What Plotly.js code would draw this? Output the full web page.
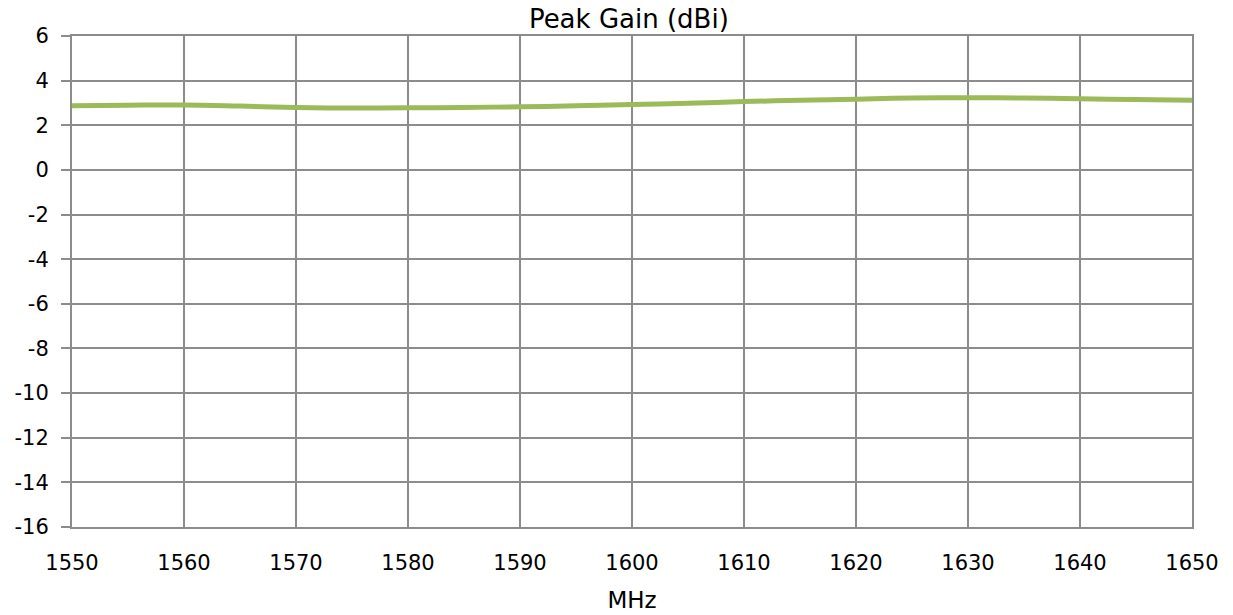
<!DOCTYPE html>
<html>
<head>
<meta charset="utf-8">
<script src="https://cdn.plot.ly/plotly-3.0.1.min.js"></script>
<style>html,body{margin:0;padding:0;background:#fff;}#chart{width:1233px;height:615px;}</style>
</head>
<body>
<div id="chart"></div>
<script>
const freqMHz = [1550,1555,1560,1565,1570,1575,1580,1585,1590,1595,1600,1605,1610,1615,1620,1625,1630,1635,1640,1645,1650];
const peakGain = [2.88,2.90,2.91,2.86,2.80,2.77,2.78,2.80,2.83,2.87,2.93,2.99,3.06,3.12,3.17,3.22,3.23,3.22,3.19,3.15,3.12];
const xTicks = [1550,1560,1570,1580,1590,1600,1610,1620,1630,1640,1650];
const yTicks = [6,4,2,0,-2,-4,-6,-8,-10,-12,-14,-16];

const font = "DejaVu Sans, Verdana, sans-serif";
const grid = "#8c8c8c";

Plotly.newPlot("chart", [{
  x: freqMHz, y: peakGain, type: "scatter", mode: "lines",
  line: {color: "#9bbb59", width: 5, shape: "spline"},
  hoverinfo: "skip"
}], {
  width: 1233, height: 615,
  margin: {l: 72, r: 41, t: 36, b: 88},
  paper_bgcolor: "#fff", plot_bgcolor: "#fff",
  showlegend: false,
  font: {family: font, color: "#000"},
  title: {text: "Peak Gain (dBi)", font: {family: font, size: 26, color: "#000"}, x: 0.51, xanchor: "center", y: 0.97, yanchor: "middle"},
  xaxis: {
    range: [1550, 1650], tickvals: xTicks, ticktext: xTicks.map(String),
    showgrid: true, gridcolor: grid, gridwidth: 2,
    showline: true, linecolor: grid, linewidth: 2, mirror: true,
    ticks: "", tickfont: {family: font, size: 21, color: "#000"},
    ticklabelstandoff: 16,
    zeroline: false,
    title: {text: "MHz", font: {family: font, size: 23, color: "#000"}, standoff: 18}
  },
  yaxis: {
    range: [-16, 6], tickvals: yTicks, ticktext: yTicks.map(String),
    showgrid: true, gridcolor: grid, gridwidth: 2,
    showline: true, linecolor: grid, linewidth: 2, mirror: true,
    ticks: "outside", ticklen: 9, tickwidth: 2, tickcolor: grid,
    tickfont: {family: font, size: 21, color: "#000"},
    ticklabelstandoff: 8,
    zeroline: false
  }
}, {displayModeBar: false, staticPlot: true});
</script>
</body>
</html>
